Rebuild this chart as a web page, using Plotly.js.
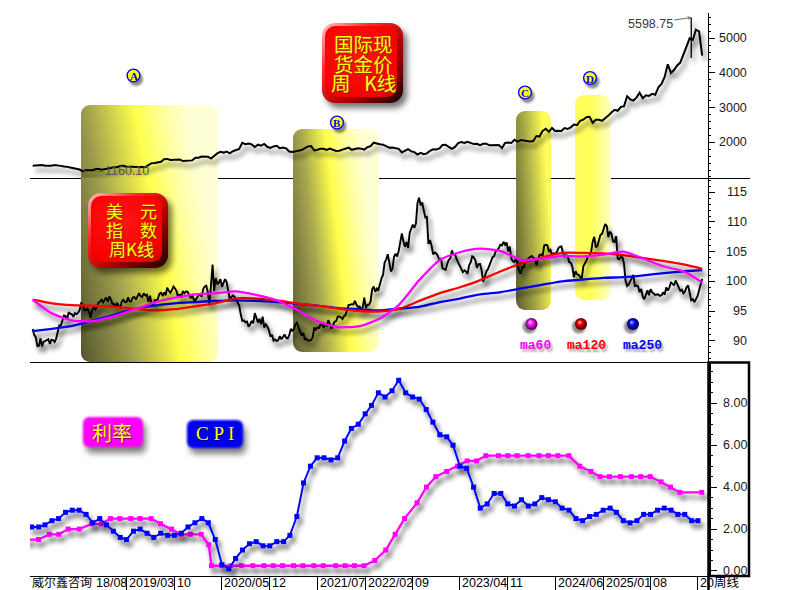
<!DOCTYPE html>
<html>
<head>
<meta charset="utf-8">
<script src="https://cdn.plot.ly/plotly-3.0.1.min.js"></script>
<style>
  html, body { margin: 0; padding: 0; background: #fff; }
  #chart { width: 804px; height: 590px; }
</style>
</head>
<body>
<div id="chart"></div>
<script>
// ---------------- Gold spot, weekly chart sampled every two weeks (USD/oz) ----------------
const goldStart = '2018-01-05';
const gold2018 = [1320,1332,1333,1347,1322,1313,1325,1345,1323,1320,1302,1298,1270,1255,1231,1214,1160.10,1201,1194,1192,1222,1235,1209,1222,1248,1257];
const gold2019 = [1285,1282,1318,1322,1294,1302,1292,1290,1286,1285,1284,1341,1399,1400,1426,1440,1513,1520,1488,1497,1489,1505,1459,1462,1460,1478];
const gold2020 = [1552,1557,1589,1584,1585,1530,1618,1680,1727,1703,1735,1684,1743,1774,1810,1985,1944,1964,1940,1862,1930,1902,1951,1871,1839,1881];
const gold2021 = [1898,1829,1848,1824,1734,1719,1733,1744,1777,1831,1881,1891,1764,1787,1815,1814,1779,1817,1788,1750,1757,1793,1818,1846,1783,1798,1829];
const gold2022 = [1817,1791,1859,1889,1988,1958,1945,1931,1883,1846,1851,1840,1811,1708,1766,1802,1738,1717,1644,1695,1657,1681,1751,1797,1793,1824];
const gold2023 = [1920,1928,1865,1811,1868,1978,2007,1983,2017,1978,1948,1958,1919,1955,1959,1914,1915,1919,1925,1833,1981,1992,1981,2072,2019,2063];
const gold2024 = [2049,2018,2024,2035,2179,2165,2330,2392,2301,2414,2327,2332,2326,2411,2387,2431,2512,2497,2622,2653,2721,2736,2563,2650,2648,2621];
const gold2025 = [2690,2770,2861,2936,2910,3022,3037,3327,3240,3204,3289,3432,3274,3355,3337,3398,3371,3586,3685,3886,4251,4002,4084,4218,4300,4530];
const gold2026 = [4750,5000,4950,5250,5200,4500];
// record week: low and high
const goldPeakDate = '2026-01-30';
const goldPeakBar = [4430, 5598.75];

// ---------------- US Dollar Index, weekly closes ----------------
const dxyStart = '2018-01-05';
const dxy2018 = [91.96,90.94,90.58,89.06,89.15,90.40,89.01,89.85,89.94,90.10,90.24,89.44,90.16,90.09,89.79,90.32,91.59,92.56,92.55,93.64,94.25,94.17,93.55,94.79,94.53,94.47,94.03,94.67,94.46,94.67,95.19,96.31,96.10,95.15,95.13,95.38,94.93,93.85,95.13,95.62,95.24,95.72,96.40,96.54,96.91,96.46,96.93,97.27,96.56,97.45,96.96,96.17];
const dxy2019 = [96.19,95.65,96.36,95.81,95.58,96.63,96.90,96.49,96.51,97.31,96.60,96.63,97.28,97.39,96.93,97.40,98.01,97.47,97.33,97.99,97.61,97.75,96.54,97.57,96.23,96.13,96.83,96.80,96.99,97.91,98.08,97.50,98.15,97.65,98.92,98.40,98.08,98.53,99.13,98.81,98.30,97.28,97.83,97.24,98.35,98.00,98.29,98.27,97.70,97.18,97.70,96.91];
const dxy2020 = [96.84,97.36,97.60,97.87,97.39,98.69,99.13,99.26,98.13,95.95,98.74,102.82,98.36,100.56,99.50,99.78,100.37,99.07,99.73,100.37,99.86,98.34,96.93,97.33,97.62,97.43,96.97,96.64,95.94,94.44,93.35,93.43,93.09,93.23,92.37,92.72,93.33,92.93,94.64,93.84,93.06,93.68,92.77,94.04,92.23,92.76,92.39,91.79,90.70,90.98,90.02,90.21];
const dxy2021 = [89.94,90.10,90.77,90.24,90.58,91.04,90.48,90.36,90.88,91.98,91.67,91.92,92.77,93.01,92.16,91.56,90.86,91.28,90.23,90.32,90.01,90.03,90.13,90.55,92.23,91.84,92.23,92.12,92.69,92.89,92.17,92.78,92.52,93.46,92.68,92.03,92.58,93.20,93.30,94.04,94.07,93.96,93.64,94.12,94.32,95.12,96.03,96.06,96.15,96.10,96.70,96.04,95.67];
const dxy2022 = [95.73,95.17,95.64,97.27,95.48,96.07,96.04,96.62,98.66,99.13,98.23,98.79,98.58,99.83,100.50,101.12,103.20,103.66,104.56,103.15,101.67,102.15,104.15,104.65,104.20,105.13,106.90,108.07,106.72,105.85,106.61,105.64,108.16,108.82,109.54,109.00,109.75,113.19,114.10,112.79,113.31,111.99,110.76,110.87,106.30,106.95,106.00,104.55,104.86,104.70,104.31,103.52];
const dxy2023 = [103.89,102.20,102.02,101.92,102.92,103.63,103.87,105.21,104.52,104.58,103.72,103.12,102.51,102.09,101.55,101.83,101.66,101.22,102.68,103.20,104.21,104.04,103.56,102.26,102.89,102.91,101.85,99.91,101.07,101.67,102.02,102.84,103.38,104.09,104.24,105.07,105.32,105.58,106.17,106.04,106.66,106.16,106.56,105.02,105.86,103.79,103.39,103.27,104.00,102.57,101.72,101.33];
const dxy2024 = [102.42,102.39,103.29,103.44,103.92,104.11,104.27,103.94,103.86,102.71,103.43,104.43,104.55,104.29,106.04,106.15,106.08,105.03,105.30,104.45,104.72,104.61,104.89,105.55,105.80,105.87,104.87,104.09,104.40,104.32,103.21,103.14,102.45,100.68,101.70,101.18,101.10,100.72,100.38,102.52,102.90,103.49,104.26,104.28,104.99,106.69,107.50,105.74,105.99,106.99,107.83,108.00];
const dxy2025 = [108.92,109.65,109.35,107.44,108.37,108.04,106.71,106.62,107.61,103.84,103.72,104.09,104.04,103.02,100.10,99.23,99.47,100.03,100.42,101.09,99.11,99.33,99.19,98.18,98.71,97.40,96.98,97.85,98.48,97.65,98.69,98.18,97.85,97.72,97.77,97.77,97.55,97.65,98.15,97.72,98.98,98.45,98.95,99.80,99.60,99.30,100.15,99.45,98.99,98.40,98.60,98.00];
const dxy2026 = [98.30,99.00,99.30,98.00,96.80,97.00,96.50,97.00,97.50,98.50,99.40,100.40];

// moving averages of the index (quarterly readings)
const maDates = ['2018-01-05','2018-04-01','2018-07-01','2018-10-01','2019-01-01','2019-04-01','2019-07-01','2019-10-01','2020-01-01','2020-04-01','2020-07-01','2020-10-01','2021-01-01','2021-04-01','2021-07-01','2021-10-01','2022-01-01','2022-04-01','2022-07-01','2022-10-01','2023-01-01','2023-04-01','2023-07-01','2023-10-01','2024-01-01','2024-04-01','2024-07-01','2024-10-01','2025-01-01','2025-04-01','2025-07-01','2025-10-01','2026-01-01','2026-03-20'];
const ma60  = [96.9,94.6,93.4,93.3,94.1,95.2,96.4,97.2,97.8,98.0,98.3,97.7,96.8,95.2,93.3,92.3,92.4,93.6,96.0,100.2,103.6,104.9,105.5,105.1,103.6,103.8,104.3,104.2,104.5,105.0,103.8,102.5,101.6,99.8];
const ma120 = [96.9,96.3,96.0,95.9,95.7,95.4,95.1,95.3,95.8,96.3,97.1,97.1,96.8,96.3,95.9,95.4,95.0,94.9,95.3,96.7,98.0,99.0,100.2,101.7,103.0,104.0,104.8,104.8,104.7,104.4,103.9,103.4,102.8,102.1];
const ma250 = [91.6,92.0,92.5,93.4,94.3,95.3,95.9,96.3,96.5,96.7,96.8,96.7,96.5,96.2,95.9,95.5,95.3,95.1,95.4,95.7,96.5,97.1,97.8,98.2,98.8,99.4,100.0,100.3,100.6,100.7,101.0,101.4,101.7,101.9];

// ---------------- US CPI, YoY % (shown from the month after it refers to) ----------------
const cpiStart = [2018, 0];
const cpiValues = [
  2.1,2.1,2.2,2.4,2.5,2.8,2.9,2.9,2.7,2.3,2.5,2.2,
  1.9,1.6,1.5,1.9,2.0,1.8,1.6,1.8,1.7,1.7,1.8,2.1,
  2.3,2.5,2.3,1.5,0.3,0.1,0.6,1.0,1.3,1.4,1.2,1.2,
  1.4,1.4,1.7,2.6,4.2,5.0,5.4,5.4,5.3,5.4,6.2,6.8,
  7.0,7.5,7.9,8.5,8.3,8.6,9.1,8.5,8.3,8.2,7.7,7.1,
  6.5,6.4,6.0,5.0,4.9,4.0,3.0,3.2,3.7,3.7,3.2,3.1,
  3.4,3.1,3.2,3.5,3.4,3.3,3.0,2.9,2.5,2.4,2.6,2.7,
  2.9,3.0,2.8,2.4,2.3,2.4,2.7,2.7,2.9,3.0,2.9,2.7,
  2.7,2.4,2.4
];

// ---------------- Fed funds target (upper bound) at each FOMC decision ----------------
const rateDates = ['2017-12-13','2018-01-31','2018-03-21','2018-05-02','2018-06-13','2018-08-01','2018-09-26','2018-11-08','2018-12-19',
  '2019-01-30','2019-03-20','2019-05-01','2019-06-19','2019-07-31','2019-09-18','2019-10-30','2019-12-11',
  '2020-01-29','2020-03-03','2020-03-15','2020-04-29','2020-06-10','2020-07-29','2020-09-16','2020-11-05','2020-12-16',
  '2021-01-27','2021-03-17','2021-04-28','2021-06-16','2021-07-28','2021-09-22','2021-11-03','2021-12-15',
  '2022-01-26','2022-03-16','2022-05-04','2022-06-15','2022-07-27','2022-09-21','2022-11-02','2022-12-14',
  '2023-02-01','2023-03-22','2023-05-03','2023-06-14','2023-07-26','2023-09-20','2023-11-01','2023-12-13',
  '2024-01-31','2024-03-20','2024-05-01','2024-06-12','2024-07-31','2024-09-18','2024-11-07','2024-12-18',
  '2025-01-29','2025-03-19','2025-05-07','2025-06-18','2025-07-30','2025-09-17','2025-10-29','2025-12-10',
  '2026-03-18'];
const rateValues = [1.5,1.5,1.75,1.75,2.0,2.0,2.25,2.25,2.5,
  2.5,2.5,2.5,2.5,2.25,2.0,1.75,1.75,
  1.75,1.25,0.25,0.25,0.25,0.25,0.25,0.25,0.25,
  0.25,0.25,0.25,0.25,0.25,0.25,0.25,0.25,
  0.25,0.5,1.0,1.75,2.5,3.25,4.0,4.5,
  4.75,5.0,5.25,5.25,5.5,5.5,5.5,5.5,
  5.5,5.5,5.5,5.5,5.5,5.0,4.75,4.5,
  4.5,4.5,4.5,4.5,4.5,4.25,4.0,3.75,
  3.75];

// ---------------- axis labels ----------------
// separators of the time strip and the part of each label left visible
const monthTickDates = ['2018-08-01','2019-03-01','2019-10-01','2020-05-01','2020-12-01','2021-07-01','2022-02-01','2022-09-01','2023-04-01','2023-11-01','2024-06-01','2025-01-01','2025-08-01','2026-03-01'];
const monthTickText  = ['18/08','2019/03','10','2020/05','12','2021/07','2022/02','09','2023/04','11','2024/06','2025/01','08','20'];
const goldTicks  = [2000, 3000, 4000, 5000];
const dxyTicks   = [90, 95, 100, 105, 110, 115];
const macroTicks = [0, 2, 4, 6, 8];

// highlighted periods
const periodNames = ['A', 'B', 'C', 'D'];
const periodStart = ['2018-08-09', '2021-03-15', '2023-12-08', '2024-08-28'];
const periodEnd   = ['2020-04-13', '2022-04-04', '2024-05-12', '2025-02-05'];

// ================= drawing =================
const DAY = 86400000;
const isoDay = ms => new Date(ms).toISOString().slice(0, 10);
const stepDates = (start, n, days) => { const t0 = Date.parse(start); return Array.from({length: n}, (_, i) => isoDay(t0 + i * days * DAY)); };

const gold = [].concat(gold2018, gold2019, gold2020, gold2021, gold2022, gold2023, gold2024, gold2025, gold2026);
const goldDates = stepDates(goldStart, gold.length, 14);
const dxy = [].concat(dxy2018, dxy2019, dxy2020, dxy2021, dxy2022, dxy2023, dxy2024, dxy2025, dxy2026);
const dxyDates = stepDates(dxyStart, dxy.length, 7);
const cpiDates = cpiValues.map((_, i) => isoDay(Date.UTC(cpiStart[0], cpiStart[1] + i, 1)));

// plot frame in page pixels
const L = 30, R = 708, T = 13, B = 576, PW = R - L, PH = B - T;
const px = v => (v - L) / PW;
const py = v => (B - v) / PH;
const xRange = ['2017-12-24', '2026-04-15'];
const PX_PER_DAY = PW / ((Date.parse(xRange[1]) - Date.parse(xRange[0])) / DAY);

const F_NUM = 'Liberation Sans, Arial, sans-serif';
const F_CJK = 'Noto Sans CJK SC, sans-serif';
const F_SERIF = 'Liberation Serif, Times New Roman, serif';
const F_MONO = 'Liberation Mono, Courier New, monospace';

const traces = [
  {x: goldDates, y: gold, xaxis: 'x', yaxis: 'y', mode: 'lines', line: {color: '#000', width: 2}},
  {x: [goldPeakDate, goldPeakDate], y: goldPeakBar, xaxis: 'x', yaxis: 'y', mode: 'lines', line: {color: '#000', width: 1.3}},
  {x: dxyDates, y: dxy, xaxis: 'x', yaxis: 'y2', mode: 'lines', line: {color: '#000', width: 1.9}},
  {x: maDates, y: ma250, xaxis: 'x', yaxis: 'y2', mode: 'lines', line: {color: '#0000ff', width: 2.3, shape: 'spline', smoothing: 0.6}},
  {x: maDates, y: ma120, xaxis: 'x', yaxis: 'y2', mode: 'lines', line: {color: '#ff0000', width: 2.3, shape: 'spline', smoothing: 0.6}},
  {x: maDates, y: ma60,  xaxis: 'x', yaxis: 'y2', mode: 'lines', line: {color: '#ff00ff', width: 2.3, shape: 'spline', smoothing: 0.6}},
  {x: rateDates, y: rateValues, xaxis: 'x', yaxis: 'y3', mode: 'lines+markers', line: {color: '#ff00ff', width: 2.3}, marker: {symbol: 'square', size: 5, color: '#ff00ff'}},
  {x: cpiDates, y: cpiValues, xaxis: 'x', yaxis: 'y3', mode: 'lines+markers', line: {color: '#0000ff', width: 1.9}, marker: {symbol: 'square', size: 5, color: '#0000ff'}}
];

const yCommon = {
  side: 'right', anchor: 'x', showgrid: false, zeroline: false, showline: true,
  linecolor: '#000', linewidth: 1, ticks: 'outside', ticklen: 6, tickcolor: '#000',
  tickmode: 'array', showticklabels: false, fixedrange: true
};

// ---- decorative artwork (SVG) ----
const svgURI = s => 'data:image/svg+xml;charset=utf-8,' + encodeURIComponent(s);
const fullCanvas = (svg, layer) => ({source: svgURI(svg), xref: 'paper', yref: 'paper', x: px(0), y: py(0),
  sizex: 804 / PW, sizey: 590 / PH, xanchor: 'left', yanchor: 'top', sizing: 'stretch', layer: layer});

const separatorSvg = `<svg xmlns="http://www.w3.org/2000/svg" width="804" height="590" viewBox="0 0 804 590">
<line x1="30" y1="178.5" x2="750" y2="178.5" stroke="#000" stroke-width="1"/>
<line x1="30" y1="362.5" x2="750" y2="362.5" stroke="#000" stroke-width="1"/></svg>`;

const periodLook = [
  {top: 105, bottom: 362, dir: [0, 1, 1, 0.65], stops: [[0, '#54542e'], [0.33, '#9d9d4c'], [0.66, '#ffff4d'], [0.86, '#ffffa8'], [1, '#ffffd6']]},
  {top: 129, bottom: 352, dir: [0, 1, 1, 0.7], stops: [[0, '#5c5c32'], [0.36, '#a8a850'], [0.62, '#ffff4d'], [0.85, '#ffffaa'], [1, '#ffffd6']]},
  {top: 111, bottom: 310, dir: [0, 1, 1, 0.6], stops: [[0, '#5a5a30'], [0.5, '#a6a646'], [1, '#ffff55']]},
  {top: 95,  bottom: 300, dir: [0, 0.5, 1, 0.5], stops: [[0, '#ffff60'], [0.45, '#ffff58'], [1, '#ffffc6']]}
];
function periodBox(w, h, look) {
  const st = look.stops.map(s => `<stop offset="${s[0]}" stop-color="${s[1]}"/>`).join('');
  const d = look.dir;
  return `<svg xmlns="http://www.w3.org/2000/svg" width="${w}" height="${h}" viewBox="0 0 ${w} ${h}" preserveAspectRatio="none">
<defs><linearGradient id="g" x1="${d[0]}" y1="${d[1]}" x2="${d[2]}" y2="${d[3]}">${st}</linearGradient></defs>
<rect x="0" y="0" width="${w}" height="${h}" rx="9" ry="9" fill="url(#g)"/></svg>`;
}

const buttons = [[322, 23, 81, 80], [88, 193, 80, 75]];
const badges = [[133.5, 75.5], [337, 122.5], [525, 92.5], [590, 78]];
const balls = [[531.5, 324, '#ffd8ff', '#ff18ff', '#4a004a'], [581, 324, '#ffd0d0', '#f00000', '#480000'], [633, 324, '#d0d0ff', '#1010ff', '#000048']];
const tagBoxes = [[83, 417, 60, 30, '#ff00ff'], [187, 420, 56, 28, '#0000f0']];

function decoSvg() {
  let defs = `<filter id="s1" x="-50%" y="-50%" width="200%" height="200%"><feGaussianBlur stdDeviation="1.3"/></filter>
<filter id="s3" x="-50%" y="-50%" width="200%" height="200%"><feGaussianBlur stdDeviation="3"/></filter>
<filter id="e1" x="-20%" y="-20%" width="140%" height="140%"><feGaussianBlur stdDeviation="0.9"/></filter>
<linearGradient id="rim" x1="0" y1="0" x2="1" y2="1"><stop offset="0" stop-color="#ffc8c8"/><stop offset="0.3" stop-color="#ff2a2a"/><stop offset="0.62" stop-color="#b00000"/><stop offset="1" stop-color="#180000"/></linearGradient>
<radialGradient id="face" cx="0.45" cy="0.4" r="0.72"><stop offset="0" stop-color="#ff1414"/><stop offset="0.85" stop-color="#f70000"/><stop offset="1" stop-color="#dc0000"/></radialGradient>`;
  let body = '';
  buttons.forEach(([x, y, w, h]) => {
    body += `<rect x="${x + 4}" y="${y + 5}" width="${w}" height="${h}" rx="13" fill="#000" opacity="0.55" filter="url(#s3)"/>
<rect x="${x}" y="${y}" width="${w}" height="${h}" rx="13" fill="url(#rim)"/>
<rect x="${x + 3}" y="${y + 3}" width="${w - 9}" height="${h - 9}" rx="10" fill="url(#face)"/>`;
  });
  badges.forEach(([cx, cy]) => {
    body += `<circle cx="${cx + 2.5}" cy="${cy + 3.5}" r="7" fill="#000" opacity="0.45" filter="url(#s1)"/>
<circle cx="${cx}" cy="${cy}" r="6.4" fill="#ffff00" stroke="#0000ff" stroke-width="1.4"/>`;
  });
  balls.forEach(([cx, cy, c0, c1, c2], i) => {
    defs += `<radialGradient id="b${i}" cx="0.5" cy="0.5" r="0.5" fx="0.36" fy="0.32"><stop offset="0" stop-color="${c0}"/><stop offset="0.4" stop-color="${c1}"/><stop offset="1" stop-color="${c2}"/></radialGradient>`;
    body += `<circle cx="${cx - 2}" cy="${cy + 2.5}" r="7" fill="#000" opacity="0.45" filter="url(#s1)"/>
<circle cx="${cx}" cy="${cy}" r="6" fill="url(#b${i})"/>`;
  });
  tagBoxes.forEach(([x, y, w, h, c]) => {
    body += `<rect x="${x + 3}" y="${y + 6}" width="${w}" height="${h}" rx="6" fill="#000" opacity="0.5" filter="url(#s3)"/>
<rect x="${x}" y="${y}" width="${w}" height="${h}" rx="6" fill="${c}" filter="url(#e1)"/>`;
  });
  return `<svg xmlns="http://www.w3.org/2000/svg" width="804" height="590" viewBox="0 0 804 590"><defs>${defs}</defs>${body}</svg>`;
}

const images = [fullCanvas(separatorSvg, 'below')];
periodNames.forEach((name, i) => {
  const look = periodLook[i];
  const ms = Date.parse(periodEnd[i]) - Date.parse(periodStart[i]);
  const w = Math.round(ms / DAY * PX_PER_DAY);
  const h = look.bottom - look.top;
  images.push({source: svgURI(periodBox(w, h, look)), xref: 'x', yref: 'paper', x: periodStart[i], y: py(look.top),
    sizex: ms, sizey: h / PH, xanchor: 'left', yanchor: 'top', sizing: 'stretch', layer: 'below'});
});
images.push(fullCanvas(decoSvg(), 'above'));

// ---- text ----
const ann = [];
const txt = (x, y, text, font, extra) => ann.push(Object.assign({xref: 'paper', yref: 'paper', x: px(x), y: py(y), text: text,
  showarrow: false, xanchor: 'center', yanchor: 'middle', font: font}, extra || {}));

// right-hand tick labels
const tickFont = {family: F_NUM, size: 12.5, color: '#1a1a1a'};
goldTicks.forEach(v => ann.push({xref: 'paper', yref: 'y', x: px(749), y: v, text: String(v), showarrow: false, xanchor: 'right', yanchor: 'middle', font: tickFont}));
dxyTicks.forEach(v => ann.push({xref: 'paper', yref: 'y2', x: px(749), y: v, text: String(v), showarrow: false, xanchor: 'right', yanchor: 'middle', font: tickFont}));
macroTicks.forEach(v => ann.push({xref: 'paper', yref: 'y3', x: px(749), y: v, text: v.toFixed(2), showarrow: false, xanchor: 'right', yanchor: 'middle', font: tickFont}));

// time labels along the bottom strip (the first one sits behind the signature)
const stripShift = monthTickText.map((t, i) => i === 0 ? 15 : 0.5);
monthTickDates.forEach((d, i) => ann.push({xref: 'x', yref: 'paper', x: d, y: py(582.5), xshift: stripShift[i], text: monthTickText[i],
  showarrow: false, xanchor: 'left', yanchor: 'middle', font: {family: F_NUM, size: 12.5, color: '#000'}}));
txt(30, 581.5, '威尔鑫咨询', {family: F_CJK, size: 12, color: '#000'}, {xanchor: 'left'});
txt(712, 581.5, '周线', {family: F_CJK, size: 12.5, color: '#000'}, {xanchor: 'left'});

// extreme values of gold
ann.push({xref: 'x', yref: 'y', x: goldPeakDate, y: goldPeakBar[1], text: goldPeakBar[1].toFixed(2), showarrow: true,
  ax: -41, ay: 6, arrowhead: 5, arrowsize: 0.7, arrowwidth: 0.8, arrowcolor: '#444', standoff: 0,
  font: {family: F_NUM, size: 12.5, color: '#3a3a3a'}});
ann.push({xref: 'x', yref: 'y', x: goldDates[16], y: gold[16], text: gold[16].toFixed(2), showarrow: true,
  ax: 44, ay: 0, arrowhead: 5, arrowsize: 0.7, arrowwidth: 0.8, arrowcolor: '#555', standoff: 0,
  font: {family: F_NUM, size: 12.5, color: '#555'}});

// panel buttons
const btnFont = s => ({family: F_CJK, size: s, color: '#ffff10', shadow: '1px 1px 1px #7a3000'});
txt(363, 43.5, '国际现', btnFont(19.5));
txt(363, 63.5, '货金价', btnFont(19.5));
txt(363, 82.5, '周\u2002\u2009K线', btnFont(19.5));
txt(131.5, 210, '美\u3000元', btnFont(17));
txt(131.5, 230, '指\u3000数', btnFont(17));
txt(131.5, 249, '周K线', btnFont(17));

// period badges
badges.forEach(([cx, cy], i) => txt(cx, cy + 0.5, periodNames[i], {family: F_SERIF, size: 11, color: '#0000ff', weight: 'bold'}));

// moving average legend
const maNames = ['ma60', 'ma120', 'ma250'];
const maColors = ['#ff00ff', '#ff0000', '#0000ff'];
const maLabelX = [535.5, 586.5, 642];
maNames.forEach((n, i) => txt(maLabelX[i], 346, n, {family: F_MONO, size: 13, color: maColors[i], weight: 'bold', shadow: '2px 3px 2px rgba(0,0,0,0.35)'}));

// tags in the macro panel
txt(112, 432, '利率', {family: F_CJK, size: 20, color: '#ffff10', shadow: '1px 1px 1px #700070'});
txt(215, 434, 'C P I', {family: F_SERIF, size: 19, color: '#ffff10', shadow: '1px 1px 1px #000070'});

const layout = {
  width: 804, height: 590,
  margin: {l: L, r: 804 - R, t: T, b: 590 - B, pad: 0},
  paper_bgcolor: '#ffffff', plot_bgcolor: 'rgba(0,0,0,0)',
  showlegend: false, hovermode: false,
  xaxis: {type: 'date', range: xRange, domain: [0, 1], anchor: 'y3', showgrid: false, zeroline: false,
    showline: true, linecolor: '#000', linewidth: 1, ticks: 'outside', ticklen: 14, tickwidth: 1, tickcolor: '#000',
    tickmode: 'array', tickvals: monthTickDates.slice(1), showticklabels: false, fixedrange: true},
  yaxis: Object.assign({}, yCommon, {domain: [py(178), 1], range: [970, 5730], tickvals: goldTicks,
    minor: {tickmode: 'linear', tick0: 0, dtick: 200, ticks: 'outside', ticklen: 2, tickcolor: '#000'}}),
  yaxis2: Object.assign({}, yCommon, {domain: [py(362), py(178)], range: [86.41, 117.41], tickvals: dxyTicks,
    minor: {tickmode: 'linear', tick0: 0, dtick: 1, ticks: 'outside', ticklen: 2, tickcolor: '#000'}}),
  yaxis3: Object.assign({}, yCommon, {domain: [0, py(362)], range: [-0.239, 9.97], tickvals: macroTicks, linewidth: 2.5,
    minor: {tickmode: 'linear', tick0: 0, dtick: 0.5, ticks: 'outside', ticklen: 2, tickcolor: '#000'}}),
  images: images,
  shapes: [
    {type: 'rect', xref: 'paper', yref: 'paper', x0: px(708.5), x1: px(749), y0: py(576), y1: py(362.5), line: {color: '#000', width: 2.5}, layer: 'above'},
    {type: 'line', xref: 'paper', yref: 'paper', x0: px(708.5), x1: px(708.5), y0: py(576), y1: py(590), line: {color: '#000', width: 2.5}, layer: 'above'}
  ],
  annotations: ann
};

const gd = document.getElementById('chart');
Plotly.newPlot(gd, traces, layout, {staticPlot: true, displayModeBar: false}).then(() => {
  // soft drop shadow under every data line
  const NS = 'http://www.w3.org/2000/svg';
  const defs = gd.querySelector('.main-svg defs');
  const f = document.createElementNS(NS, 'filter');
  f.setAttribute('id', 'lineShadow');
  f.setAttribute('filterUnits', 'userSpaceOnUse');
  f.setAttribute('x', '-100'); f.setAttribute('y', '-100');
  f.setAttribute('width', '1000'); f.setAttribute('height', '800');
  f.innerHTML = '<feGaussianBlur in="SourceAlpha" stdDeviation="2.5"/><feOffset dx="3" dy="5"/>' +
    '<feComponentTransfer><feFuncA type="linear" slope="0.6"/></feComponentTransfer>' +
    '<feMerge><feMergeNode/><feMergeNode in="SourceGraphic"/></feMerge>';
  defs.appendChild(f);
  gd.querySelectorAll('.scatterlayer .trace').forEach(g => g.setAttribute('filter', 'url(#lineShadow)'));
});
</script>
</body>
</html>
